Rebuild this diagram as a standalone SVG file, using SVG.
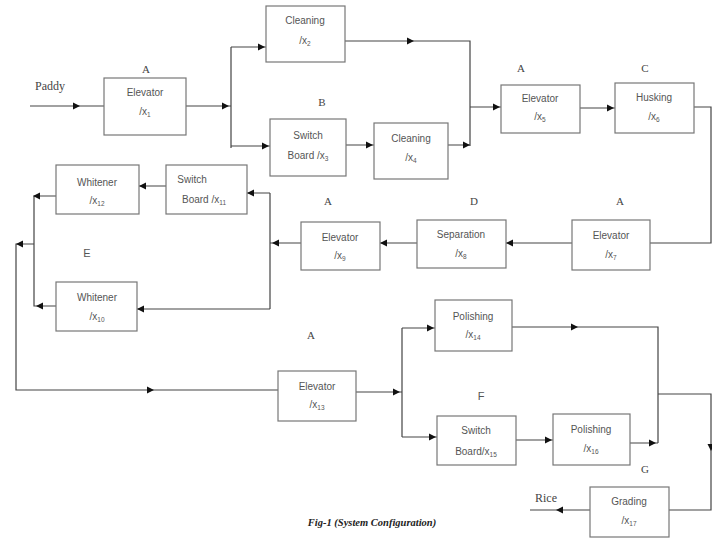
<svg xmlns="http://www.w3.org/2000/svg" xmlns:xlink="http://www.w3.org/1999/xlink" width="712" height="539" viewBox="0 0 712 539">
<style>
.bx{fill:#fff;stroke:#777;stroke-width:1.2}
.t{font-family:"Liberation Sans",Arial,sans-serif;font-size:10px;fill:#555;text-anchor:middle}
.s{font-size:6.5px}
.lb{font-family:"Liberation Serif","Times New Roman",serif;font-size:11px;font-weight:normal;fill:#444;text-anchor:middle}
.big{font-size:12px}
.ln{fill:none;stroke:#444;stroke-width:1.2}
.cap{font-family:"Liberation Serif","Times New Roman",serif;font-size:10.5px;font-style:italic;font-weight:bold;fill:#222;text-anchor:middle}
</style>
<defs>
<polygon id="ah" points="0,0 -7,-3.5 -7,3.5" fill="#111"/>
</defs>
<rect width="712" height="539" fill="#fff"/>

<g id="connectors">
<path class="ln" d="M30,106 H104"/>
<path class="ln" d="M186,106 H231 M231,47 V148 M231,47 H266 M231,146 H270"/>
<path class="ln" d="M345,41 H470 V146 M346,145 H374 M448,145 H470"/>
<path class="ln" d="M470,107 H501 M580,108 H615"/>
<path class="ln" d="M694,107 H711 V243 H650"/>
<path class="ln" d="M572,243 H506 M417,243 H380 M301,243 H270"/>
<path class="ln" d="M270,193 V309 M270,193 H247 M166,186 H139 M56,196 H34 V306 H56 M270,309 H137"/>
<path class="ln" d="M34,244 H16 V390 H278"/>
<path class="ln" d="M356,392 H402 M402,328 V437 M402,328 H435 M402,437 H437"/>
<path class="ln" d="M512,327 H658 V443 M516,440 H553 M630,443 H658"/>
<path class="ln" d="M658,394 H711 V510 H669 M590,510 H530"/>
<use xlink:href="#ah" transform="translate(80,106)"/>
<use xlink:href="#ah" transform="translate(229,106)"/>
<use xlink:href="#ah" transform="translate(265,47)"/>
<use xlink:href="#ah" transform="translate(269,146)"/>
<use xlink:href="#ah" transform="translate(414,41)"/>
<use xlink:href="#ah" transform="translate(373,145)"/>
<use xlink:href="#ah" transform="translate(470,145)"/>
<use xlink:href="#ah" transform="translate(500,107)"/>
<use xlink:href="#ah" transform="translate(614,108)"/>
<use xlink:href="#ah" transform="translate(506,243) rotate(180)"/>
<use xlink:href="#ah" transform="translate(380,243) rotate(180)"/>
<use xlink:href="#ah" transform="translate(272,243) rotate(180)"/>
<use xlink:href="#ah" transform="translate(247,193) rotate(180)"/>
<use xlink:href="#ah" transform="translate(139,186) rotate(180)"/>
<use xlink:href="#ah" transform="translate(33,196) rotate(180)"/>
<use xlink:href="#ah" transform="translate(137,309) rotate(180)"/>
<use xlink:href="#ah" transform="translate(36,306) rotate(180)"/>
<use xlink:href="#ah" transform="translate(16,244) rotate(180)"/>
<use xlink:href="#ah" transform="translate(154,390)"/>
<use xlink:href="#ah" transform="translate(400,392)"/>
<use xlink:href="#ah" transform="translate(434,328)"/>
<use xlink:href="#ah" transform="translate(436,437)"/>
<use xlink:href="#ah" transform="translate(578,327)"/>
<use xlink:href="#ah" transform="translate(552,440)"/>
<use xlink:href="#ah" transform="translate(656,443)"/>
<use xlink:href="#ah" transform="translate(711,451) rotate(90)"/>
<use xlink:href="#ah" transform="translate(556,510) rotate(180)"/>
</g>

<text class="lb big" x="50" y="90">Paddy</text>
<text class="lb big" x="546" y="502">Rice</text>

<g id="n1"><text class="lb" x="146" y="73">A</text><rect class="bx" x="104" y="78" width="82" height="57"/><text class="t" x="145" y="96">Elevator</text><text class="t" x="145" y="115">/x<tspan class="s" dy="2">1</tspan></text></g>
<g id="n2"><rect class="bx" x="266" y="6" width="79" height="56"/><text class="t" x="305" y="24">Cleaning</text><text class="t" x="305" y="44">/x<tspan class="s" dy="2">2</tspan></text></g>
<g id="n3"><text class="lb" x="322" y="106">B</text><rect class="bx" x="270" y="119" width="76" height="57"/><text class="t" x="308" y="139">Switch</text><text class="t" x="308" y="159">Board /x<tspan class="s" dy="2">3</tspan></text></g>
<g id="n4"><rect class="bx" x="374" y="123" width="74" height="56"/><text class="t" x="411" y="142">Cleaning</text><text class="t" x="411" y="161">/x<tspan class="s" dy="2">4</tspan></text></g>
<g id="n5"><text class="lb" x="521" y="72">A</text><rect class="bx" x="501" y="85" width="79" height="48"/><text class="t" x="540" y="102">Elevator</text><text class="t" x="540" y="120">/x<tspan class="s" dy="2">5</tspan></text></g>
<g id="n6"><text class="lb" x="645" y="72">C</text><rect class="bx" x="615" y="83" width="79" height="50"/><text class="t" x="654" y="101">Husking</text><text class="t" x="654" y="120">/x<tspan class="s" dy="2">6</tspan></text></g>
<g id="n7"><text class="lb" x="620" y="205">A</text><rect class="bx" x="572" y="220" width="78" height="50"/><text class="t" x="611" y="239">Elevator</text><text class="t" x="611" y="258">/x<tspan class="s" dy="2">7</tspan></text></g>
<g id="n8"><text class="lb" x="474" y="205">D</text><rect class="bx" x="417" y="220" width="89" height="48"/><text class="t" x="461" y="238">Separation</text><text class="t" x="461" y="257">/x<tspan class="s" dy="2">8</tspan></text></g>
<g id="n9"><text class="lb" x="328" y="205">A</text><rect class="bx" x="301" y="222" width="79" height="48"/><text class="t" x="340" y="241">Elevator</text><text class="t" x="340" y="259">/x<tspan class="s" dy="2">9</tspan></text></g>
<g id="n11"><rect class="bx" x="166" y="165" width="81" height="49"/><text class="t" x="192" y="183">Switch</text><text class="t" x="204" y="203">Board /x<tspan class="s" dy="2">11</tspan></text></g>
<g id="n12"><rect class="bx" x="56" y="165" width="83" height="49"/><text class="t" x="97" y="186">Whitener</text><text class="t" x="97" y="204">/x<tspan class="s" dy="2">12</tspan></text></g>
<text class="t" x="87" y="257" style="font-size:11px">E</text>
<g id="n10"><rect class="bx" x="56" y="282" width="81" height="49"/><text class="t" x="97" y="301">Whitener</text><text class="t" x="97" y="320">/x<tspan class="s" dy="2">10</tspan></text></g>
<g id="n13"><text class="lb" x="311" y="339">A</text><rect class="bx" x="278" y="371" width="78" height="50"/><text class="t" x="317" y="390">Elevator</text><text class="t" x="317" y="408">/x<tspan class="s" dy="2">13</tspan></text></g>
<g id="n14"><rect class="bx" x="435" y="300" width="77" height="51"/><text class="t" x="473" y="320">Polishing</text><text class="t" x="473" y="338">/x<tspan class="s" dy="2">14</tspan></text></g>
<text class="t" x="481" y="400" style="font-size:11px">F</text>
<g id="n15"><rect class="bx" x="437" y="416" width="79" height="49"/><text class="t" x="476" y="434">Switch</text><text class="t" x="476" y="455">Board/x<tspan class="s" dy="2">15</tspan></text></g>
<g id="n16"><rect class="bx" x="553" y="414" width="77" height="51"/><text class="t" x="591" y="433">Polishing</text><text class="t" x="591" y="452">/x<tspan class="s" dy="2">16</tspan></text></g>
<g id="n17"><text class="lb" x="645" y="473">G</text><rect class="bx" x="590" y="487" width="79" height="50"/><text class="t" x="629" y="505">Grading</text><text class="t" x="629" y="524">/x<tspan class="s" dy="2">17</tspan></text></g>

<text class="cap" x="372" y="526">Fig-1 (System Configuration)</text>
</svg>
